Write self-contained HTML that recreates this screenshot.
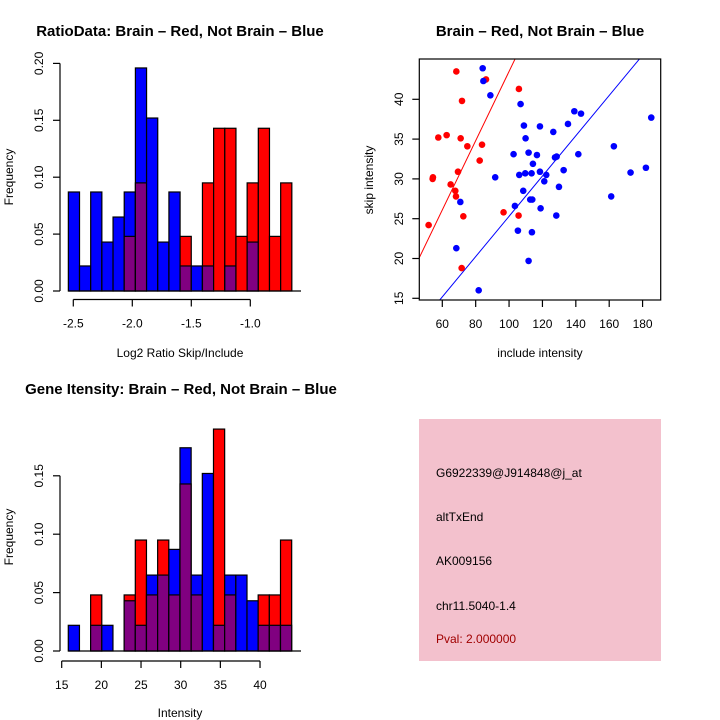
<!DOCTYPE html>
<html><head><meta charset="utf-8"><style>
body{margin:0;background:#fff}
svg{display:block;font-family:"Liberation Sans",Arial,sans-serif}
</style></head><body>
<svg id="s" width="720" height="720" viewBox="0 0 720 720">
<text x="180" y="36" text-anchor="middle" font-size="15" font-weight="bold">RatioData: Brain – Red, Not Brain – Blue</text>
<text x="540" y="36" text-anchor="middle" font-size="15" font-weight="bold">Brain – Red, Not Brain – Blue</text>
<text x="181" y="394" text-anchor="middle" font-size="15" font-weight="bold">Gene Itensity: Brain – Red, Not Brain – Blue</text>
<text x="180" y="357" text-anchor="middle" font-size="12">Log2 Ratio Skip/Include</text>
<text x="180" y="717" text-anchor="middle" font-size="12">Intensity</text>
<text x="540" y="357" text-anchor="middle" font-size="12">include intensity</text>
<text transform="translate(13,177) rotate(-90)" text-anchor="middle" font-size="12">Frequency</text>
<text transform="translate(13,537) rotate(-90)" text-anchor="middle" font-size="12">Frequency</text>
<text transform="translate(373,180) rotate(-90)" text-anchor="middle" font-size="12">skip intensity</text>
<g>
<rect x="419" y="419" width="242" height="242" fill="#f3c1cd"/>
<text x="436" y="477" font-size="12">G6922339@J914848@j_at</text>
<text x="436" y="521" font-size="12">altTxEnd</text>
<text x="436" y="565" font-size="12">AK009156</text>
<text x="436" y="610" font-size="12">chr11.5040-1.4</text>
<text x="436" y="643" font-size="12" fill="#a00000">Pval: 2.000000</text>
</g>
</svg>
<script>
// ---- top-left histogram data ----
const ratioStart = -2.542, ratioBinW = 0.0947;
const ratioBlue = [0.087,0.022,0.087,0.043,0.065,0.087,0.196,0.152,0.043,0.087,0.022,0.022,0.022,0,0.022,0,0.043,0,0,0];
const ratioRed  = [0,0,0,0,0,0.048,0.095,0,0,0,0.048,0,0.095,0.143,0.143,0.048,0.095,0.143,0.048,0.095];
const ratioXTicks = [-2.5,-2.0,-1.5,-1.0];
const ratioXLabels = ["-2.5","-2.0","-1.5","-1.0"];
const ratioYTicks = [0,0.05,0.10,0.15,0.20];
const ratioYLabels = ["0.00","0.05","0.10","0.15","0.20"];
// ---- bottom-left histogram data ----
const intStart = 15.83, intBinW = 1.408;
const intBlue = [0.022,0,0.022,0.022,0,0.043,0.022,0.065,0.065,0.087,0.174,0.065,0.152,0.022,0.065,0.065,0.043,0.022,0.022,0.022];
const intRed  = [0,0,0.048,0,0,0.048,0.095,0.048,0.095,0.048,0.143,0.048,0,0.19,0.048,0,0,0.048,0.048,0.095];
const intXTicks = [15,20,25,30,35,40];
const intYTicks = [0,0.05,0.10,0.15];
const intYLabels = ["0.00","0.05","0.10","0.15"];
// ---- scatter data ----
const redX = [68.4,86.2,105.9,71.8,57.6,62.6,71.0,75.0,83.8,82.4,54.2,54.4,69.4,65.0,67.8,68.2,72.6,51.8,96.7,105.7,71.6];
const redY = [43.5,42.5,41.3,39.8,35.2,35.5,35.1,34.1,34.3,32.3,30.0,30.2,30.9,29.3,28.5,27.8,25.3,24.2,25.8,25.4,18.8];
const blueX = [84.2,84.6,88.8,106.9,139.1,143.1,185.2,108.9,118.5,126.5,135.3,109.9,162.8,102.7,111.7,116.7,141.5,127.5,128.5,114.3,132.7,182.0,91.7,106.1,109.7,113.5,118.5,122.3,121.1,129.9,172.8,108.5,161.2,112.7,113.9,118.9,103.5,128.3,70.8,105.3,113.7,68.4,111.7,81.8];
const blueY = [43.9,42.3,40.5,39.4,38.5,38.2,37.7,36.7,36.6,35.9,36.9,35.1,34.1,33.1,33.3,33.0,33.1,32.7,32.8,31.9,31.1,31.4,30.2,30.5,30.7,30.7,30.9,30.5,29.7,29.0,30.8,28.5,27.8,27.4,27.4,26.3,26.6,25.4,27.1,23.5,23.3,21.3,19.7,16.0];
const redSlope = 0.435, blueSlope = 0.253;
const scXTicks = [60,80,100,120,140,160,180];
const scYTicks = [15,20,25,30,35,40];

const S = document.getElementById('s'), NS = 'http://www.w3.org/2000/svg';
function mk(tag, at, parent){const e=document.createElementNS(NS,tag);for(const k in at)e.setAttribute(k,at[k]);(parent||S).appendChild(e);return e;}

function hist(name, start, bw, blue, red, xpx, ypx, x0, xTicks, xLabels, yTicks, yLabels, axisY){
  const g = mk('g',{});
  
  
  for(let i=0;i<blue.length;i++){
    const l = xpx(start+i*bw), r = xpx(start+(i+1)*bw);
    const b = blue[i], rd = red[i], mx = Math.max(b,rd), mn = Math.min(b,rd);
    if(mx>0){
      const e = mk('rect',{x:l,y:ypx(mx),width:r-l,height:ypx(0)-ypx(mx),fill:b>=rd?'#0000ff':'#ff0000',stroke:'#000','stroke-width':1.2},g);
      
      
    }
    if(mn>0){
      const e = mk('rect',{x:l,y:ypx(mn),width:r-l,height:ypx(0)-ypx(mn),fill:'#800080',stroke:'#000','stroke-width':1.2},g);
      
      
    }
  }
  mk('line',{x1:xpx(start),x2:301,y1:ypx(0),y2:ypx(0),stroke:'#000','stroke-width':1.2},g);
  mk('line',{x1:x0,x2:x0,y1:ypx(yTicks[0]),y2:ypx(yTicks[yTicks.length-1]),stroke:'#000','stroke-width':1.2},g);
  yTicks.forEach((v,i)=>{
    mk('line',{x1:x0-7,x2:x0,y1:ypx(v),y2:ypx(v),stroke:'#000','stroke-width':1.2},g);
    const t = mk('text',{transform:`translate(43,${ypx(v)}) rotate(-90)`,'text-anchor':'middle','font-size':12},g);
    t.textContent = yLabels[i];
    
    
  });
  mk('line',{x1:xpx(xTicks[0]),x2:xpx(xTicks[xTicks.length-1]),y1:axisY,y2:axisY,stroke:'#000','stroke-width':1.2},g);
  xTicks.forEach((v,i)=>{
    mk('line',{x1:xpx(v),x2:xpx(v),y1:axisY,y2:axisY+7,stroke:'#000','stroke-width':1.2},g);
    const t = mk('text',{x:xpx(v),y:axisY+28,'text-anchor':'middle','font-size':12},g);
    t.textContent = xLabels[i];
    
    
  });
}
hist('ratio-histogram', ratioStart, ratioBinW, ratioBlue, ratioRed,
  v=>73.3+(v+2.5)*118, v=>291-v*1138, 60, ratioXTicks, ratioXLabels, ratioYTicks, ratioYLabels, 299.5);
hist('intensity-histogram', intStart, intBinW, intBlue, intRed,
  v=>61.7+(v-15)*7.933, v=>651-v*1168, 60, intXTicks, intXTicks.map(String), intYTicks, intYLabels, 661);

const sx = v=>442.3+(v-60)*1.669, sy = v=>298.3-(v-15)*7.96;
const sg = mk('g',{});


mk('clipPath',{id:'clp'},sg);
mk('rect',{x:419.3,y:59,width:241.4,height:241},document.getElementById('clp'));
const lr = mk('line',{x1:sx(30),y1:sy(redSlope*30),x2:sx(200),y2:sy(redSlope*200),stroke:'#ff0000','stroke-width':1,'clip-path':'url(#clp)'},sg);


const lb = mk('line',{x1:sx(30),y1:sy(blueSlope*30),x2:sx(200),y2:sy(blueSlope*200),stroke:'#0000ff','stroke-width':1,'clip-path':'url(#clp)'},sg);


redX.forEach((x,i)=>{
  const c = mk('circle',{cx:sx(x),cy:sy(redY[i]),r:3.3,fill:'#ff0000'},sg);
  
  
});
blueX.forEach((x,i)=>{
  const c = mk('circle',{cx:sx(x),cy:sy(blueY[i]),r:3.3,fill:'#0000ff'},sg);
  
  
});
const box = mk('rect',{x:419.3,y:59,width:241.4,height:241,fill:'none',stroke:'#000','stroke-width':1.2},sg);


scXTicks.forEach(v=>{
  mk('line',{x1:sx(v),x2:sx(v),y1:300,y2:307,stroke:'#000','stroke-width':1.2},sg);
  const t = mk('text',{x:sx(v),y:328,'text-anchor':'middle','font-size':12},sg);
  t.textContent = String(v);
  
  
});
scYTicks.forEach(v=>{
  mk('line',{x1:412.3,x2:419.3,y1:sy(v),y2:sy(v),stroke:'#000','stroke-width':1.2},sg);
  const t = mk('text',{transform:`translate(403,${sy(v)}) rotate(-90)`,'text-anchor':'middle','font-size':12},sg);
  t.textContent = String(v);
  
  
});
</script>
</body></html>
